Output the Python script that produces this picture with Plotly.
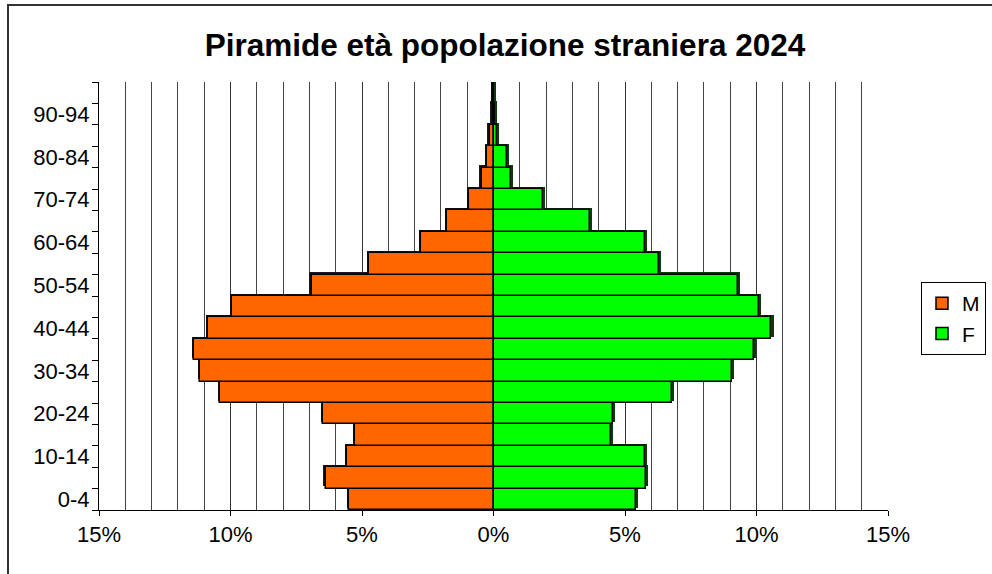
import plotly.graph_objects as go

age_groups = ["0-4", "5-9", "10-14", "15-19", "20-24", "25-29", "30-34", "35-39",
              "40-44", "45-49", "50-54", "55-59", "60-64", "65-69", "70-74",
              "75-79", "80-84", "85-89", "90-94", "95-99"]
males = [5.50, 6.38, 5.56, 5.27, 6.48, 10.39, 11.16, 11.37, 10.84, 9.95,
         6.92, 4.73, 2.76, 1.77, 0.92, 0.45, 0.24, 0.15, 0.03, 0.01]
females = [5.40, 5.78, 5.75, 4.47, 4.54, 6.77, 9.05, 9.91, 10.57, 10.10,
           9.30, 6.28, 5.75, 3.66, 1.88, 0.65, 0.50, 0.13, 0.05, 0.02]
x_ticks = [-15, -10, -5, 0, 5, 10, 15]
x_tick_labels = ["15%", "10%", "5%", "0%", "5%", "10%", "15%"]
title_text = "Piramide età popolazione straniera 2024"

pos = list(range(len(age_groups)))
label_idx = [i for i in pos if i % 2 == 0]

W, H = 992, 574
L, R, T, B = 99, 888, 82, 510
px_x = 30.0 / (R - L)               # one pixel in % units
px_y = len(age_groups) / (B - T)    # one pixel in category units
sh = 2.3                            # shadow offset in pixels

fig = go.Figure()
# drop shadows (offset outward and upward)
fig.add_trace(go.Bar(
    y=[p + sh * px_y for p in pos], x=[-(v + sh * px_x) for v in males],
    orientation="h", width=1, showlegend=False, hoverinfo="skip",
    marker=dict(color="#1a1a1a", line=dict(width=0)),
))
fig.add_trace(go.Bar(
    y=[p + sh * px_y for p in pos], x=[v + sh * px_x for v in females],
    orientation="h", width=1, showlegend=False, hoverinfo="skip",
    marker=dict(color="#0d3a0d", line=dict(width=0)),
))
fig.add_trace(go.Bar(
    y=pos, x=[-v for v in males], orientation="h", name="M", width=1,
    marker=dict(color="#FF6600", line=dict(color="black", width=1.5)),
    hovertext=age_groups,
))
fig.add_trace(go.Bar(
    y=pos, x=females, orientation="h", name="F", width=1,
    marker=dict(color="#00FF00", line=dict(color="black", width=1.5)),
    hovertext=age_groups,
))

fig.update_layout(
    width=W, height=H,
    barmode="overlay", bargap=0,
    plot_bgcolor="white", paper_bgcolor="white",
    margin=dict(l=L, r=W - R, t=T, b=H - B, pad=0, autoexpand=False),
    font=dict(family="Liberation Sans, Arial, sans-serif", size=22, color="black"),
    title=dict(text="<b>" + title_text + "</b>", x=505 / W, xanchor="center",
               y=1 - 45 / H, yanchor="middle",
               font=dict(size=31.5, family="Liberation Sans, Arial, sans-serif", color="black")),
    legend=dict(x=(921 - L) / (R - L), xanchor="left", y=(B - 282) / (B - T), yanchor="top",
                bordercolor="black", borderwidth=1, bgcolor="white",
                font=dict(size=21), tracegroupgap=4, itemwidth=30),
    showlegend=True,
    xaxis=dict(
        range=[-15, 15], tickvals=x_ticks, ticktext=x_tick_labels,
        showgrid=True, gridcolor="#333", gridwidth=1,
        minor=dict(dtick=1, showgrid=True, gridcolor="#444", gridwidth=1),
        ticks="outside", ticklen=5, tickcolor="black",
        showline=True, linecolor="black", linewidth=1,
        zeroline=False, fixedrange=True,
    ),
    yaxis=dict(
        range=[-0.5, len(age_groups) - 0.5],
        tickvals=label_idx, ticktext=[age_groups[i] for i in label_idx],
        ticks="", showgrid=False, zeroline=False, ticklabelstandoff=4,
        minor=dict(tickvals=[i - 0.5 for i in range(len(age_groups) + 1)],
                   ticks="outside", ticklen=6, tickcolor="black", showgrid=False),
        showline=True, linecolor="black", linewidth=1, fixedrange=True,
    ),
)

fig.add_shape(type="rect", xref="paper", yref="paper",
              x0=(8 - L) / (R - L), x1=(1010 - L) / (R - L),
              y0=(B - 590) / (B - T), y1=(B - 5) / (B - T),
              line=dict(color="#333", width=2), fillcolor="rgba(0,0,0,0)", layer="below")

fig.write_html("out.html", config={"displayModeBar": False},
               post_script="document.body.style.margin='0';")
